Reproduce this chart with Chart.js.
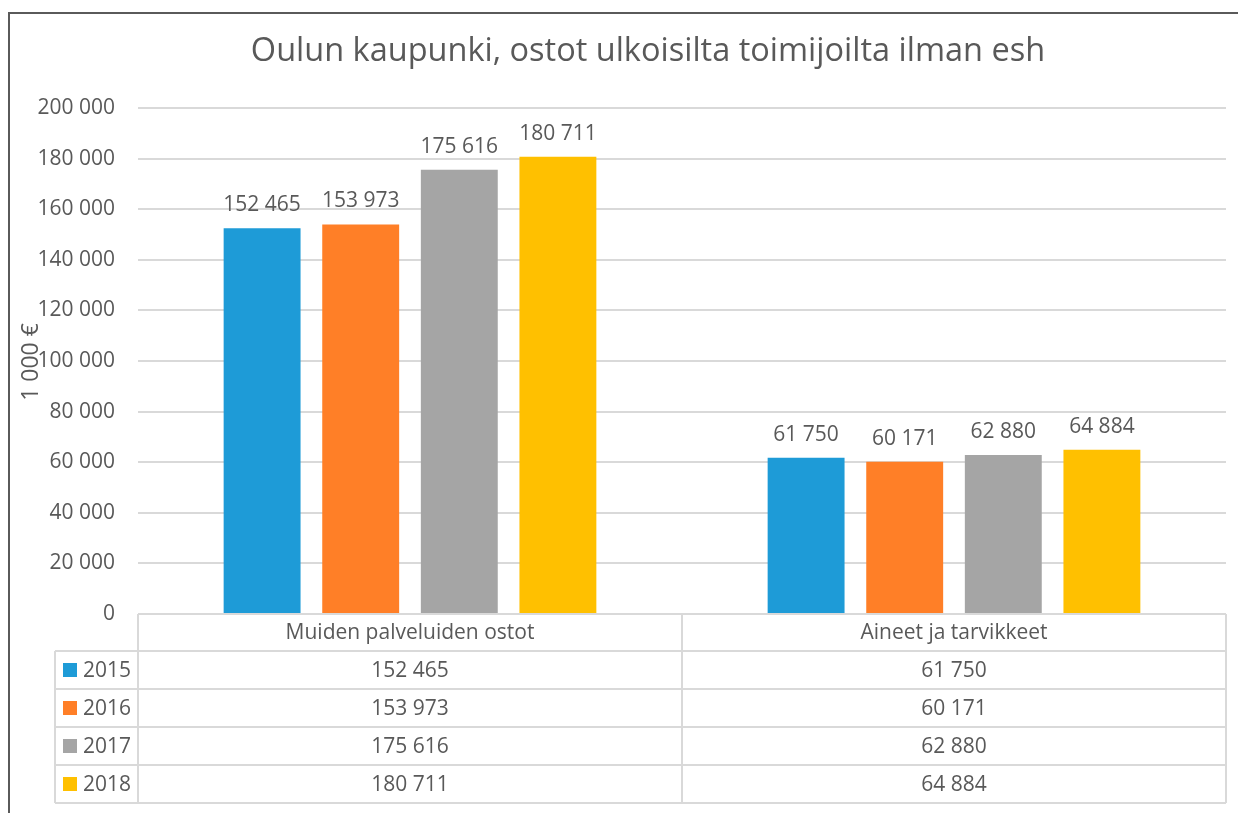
<!DOCTYPE html>
<html>
<head>
<meta charset="utf-8">
<script src="https://cdn.jsdelivr.net/npm/chart.js@4/dist/chart.umd.min.js"></script>
<style>
  body { margin: 0; background: #fff; }
  #wrap { position: relative; width: 1238px; height: 813px; }
  #frame { position: absolute; left: 8px; top: 12px; right: 0; bottom: 0;
           border-left: 2px solid #5a5a5a; border-top: 2px solid #5a5a5a; }
  canvas { position: absolute; left: 0; top: 0; }
</style>
</head>
<body>
<div id="wrap">
  <div id="frame"></div>
  <canvas id="ostotChart" width="1238" height="813"></canvas>
</div>
<script>
const chartTitle = 'Oulun kaupunki, ostot ulkoisilta toimijoilta ilman esh';
const yTitle = '1 000 €';
const categories = ['Muiden palveluiden ostot', 'Aineet ja tarvikkeet'];
const years = ['2015', '2016', '2017', '2018'];
const values2015 = [152465, 61750];
const values2016 = [153973, 60171];
const values2017 = [175616, 62880];
const values2018 = [180711, 64884];
const yearColors = ['#1e9bd7', '#ff7f27', '#a5a5a5', '#ffc000'];

const textColor = '#595959';
const lineColor = '#d9d9d9';
const font = '"Open Sans", "Noto Sans", sans-serif';

function fmt(v) {
  return String(v).replace(/\B(?=(\d{3})+(?!\d))/g, ' ');
}

const allValues = [values2015, values2016, values2017, values2018];

// title, value labels, y title and the data table underneath
const extrasPlugin = {
  id: 'extras',
  afterDraw(chart) {
    const ctx = chart.ctx;
    const area = chart.chartArea;
    const x = chart.scales.x;
    ctx.save();
    ctx.fillStyle = textColor;

    ctx.font = '32.5px ' + font;
    ctx.textAlign = 'center';
    ctx.textBaseline = 'middle';
    ctx.fillText(chartTitle, 648, 52);

    ctx.save();
    ctx.translate(31, 362);
    ctx.rotate(-Math.PI / 2);
    ctx.font = '23px ' + font;
    ctx.fillText(yTitle, 0, 0);
    ctx.restore();

    // labels over bars
    ctx.font = '21px ' + font;
    ctx.textBaseline = 'alphabetic';
    chart.data.datasets.forEach((ds, i) => {
      chart.getDatasetMeta(i).data.forEach((bar, j) => {
        ctx.fillText(fmt(ds.data[j]), bar.x, bar.y - 17);
      });
    });

    // table
    const step = x.getPixelForValue(1) - x.getPixelForValue(0);
    const top = area.bottom;
    const headH = 37;
    const rowH = 38;
    const legLeft = 55;
    const nRows = years.length;
    const bottom = top + headH + rowH * nRows;
    ctx.strokeStyle = lineColor;
    ctx.lineWidth = 2;
    ctx.beginPath();
    ctx.moveTo(area.left, top); ctx.lineTo(area.right, top);
    for (let r = 0; r <= nRows; r++) {
      const yy = top + headH + rowH * r;
      ctx.moveTo(legLeft, yy); ctx.lineTo(area.right, yy);
    }
    ctx.moveTo(legLeft, top + headH); ctx.lineTo(legLeft, bottom);
    for (let c = 0; c <= categories.length; c++) {
      const xx = x.getPixelForValue(c) - step / 2;
      ctx.moveTo(xx, top); ctx.lineTo(xx, bottom);
    }
    ctx.stroke();

    ctx.fillStyle = textColor;
    ctx.textAlign = 'center';
    ctx.textBaseline = 'middle';
    categories.forEach((c, j) => {
      ctx.fillText(c, x.getPixelForValue(j), top + headH / 2 + 1);
    });
    years.forEach((yr, r) => {
      const cy = top + headH + rowH * r + rowH / 2 + 1;
      ctx.fillStyle = yearColors[r];
      ctx.fillRect(63, cy - 8, 14, 14);
      ctx.fillStyle = textColor;
      ctx.textAlign = 'left';
      ctx.fillText(yr, 83, cy);
      ctx.textAlign = 'center';
      allValues[r].forEach((v, j) => {
        ctx.fillText(fmt(v), x.getPixelForValue(j), cy);
      });
    });
    ctx.restore();
  }
};

new Chart(document.getElementById('ostotChart'), {
  type: 'bar',
  data: {
    labels: categories,
    datasets: years.map((yr, i) => ({
      label: yr,
      data: allValues[i],
      backgroundColor: yearColors[i],
      barPercentage: 0.78,
      categoryPercentage: 0.725
    }))
  },
  options: {
    responsive: false,
    animation: false,
    layout: { padding: { top: 108, right: 12, bottom: 199, left: 0 } },
    plugins: {
      legend: { display: false },
      title: { display: false },
      tooltip: { enabled: false }
    },
    scales: {
      x: { display: false },
      y: {
        min: 0,
        max: 200000,
        afterFit(scale) { scale.width = 138; },
        border: { display: false },
        grid: { color: lineColor, lineWidth: 2, drawTicks: false },
        ticks: {
          stepSize: 20000,
          padding: 23,
          color: textColor,
          font: { family: font, size: 21 },
          callback: v => fmt(v)
        }
      }
    }
  },
  plugins: [extrasPlugin]
});
</script>
</body>
</html>
